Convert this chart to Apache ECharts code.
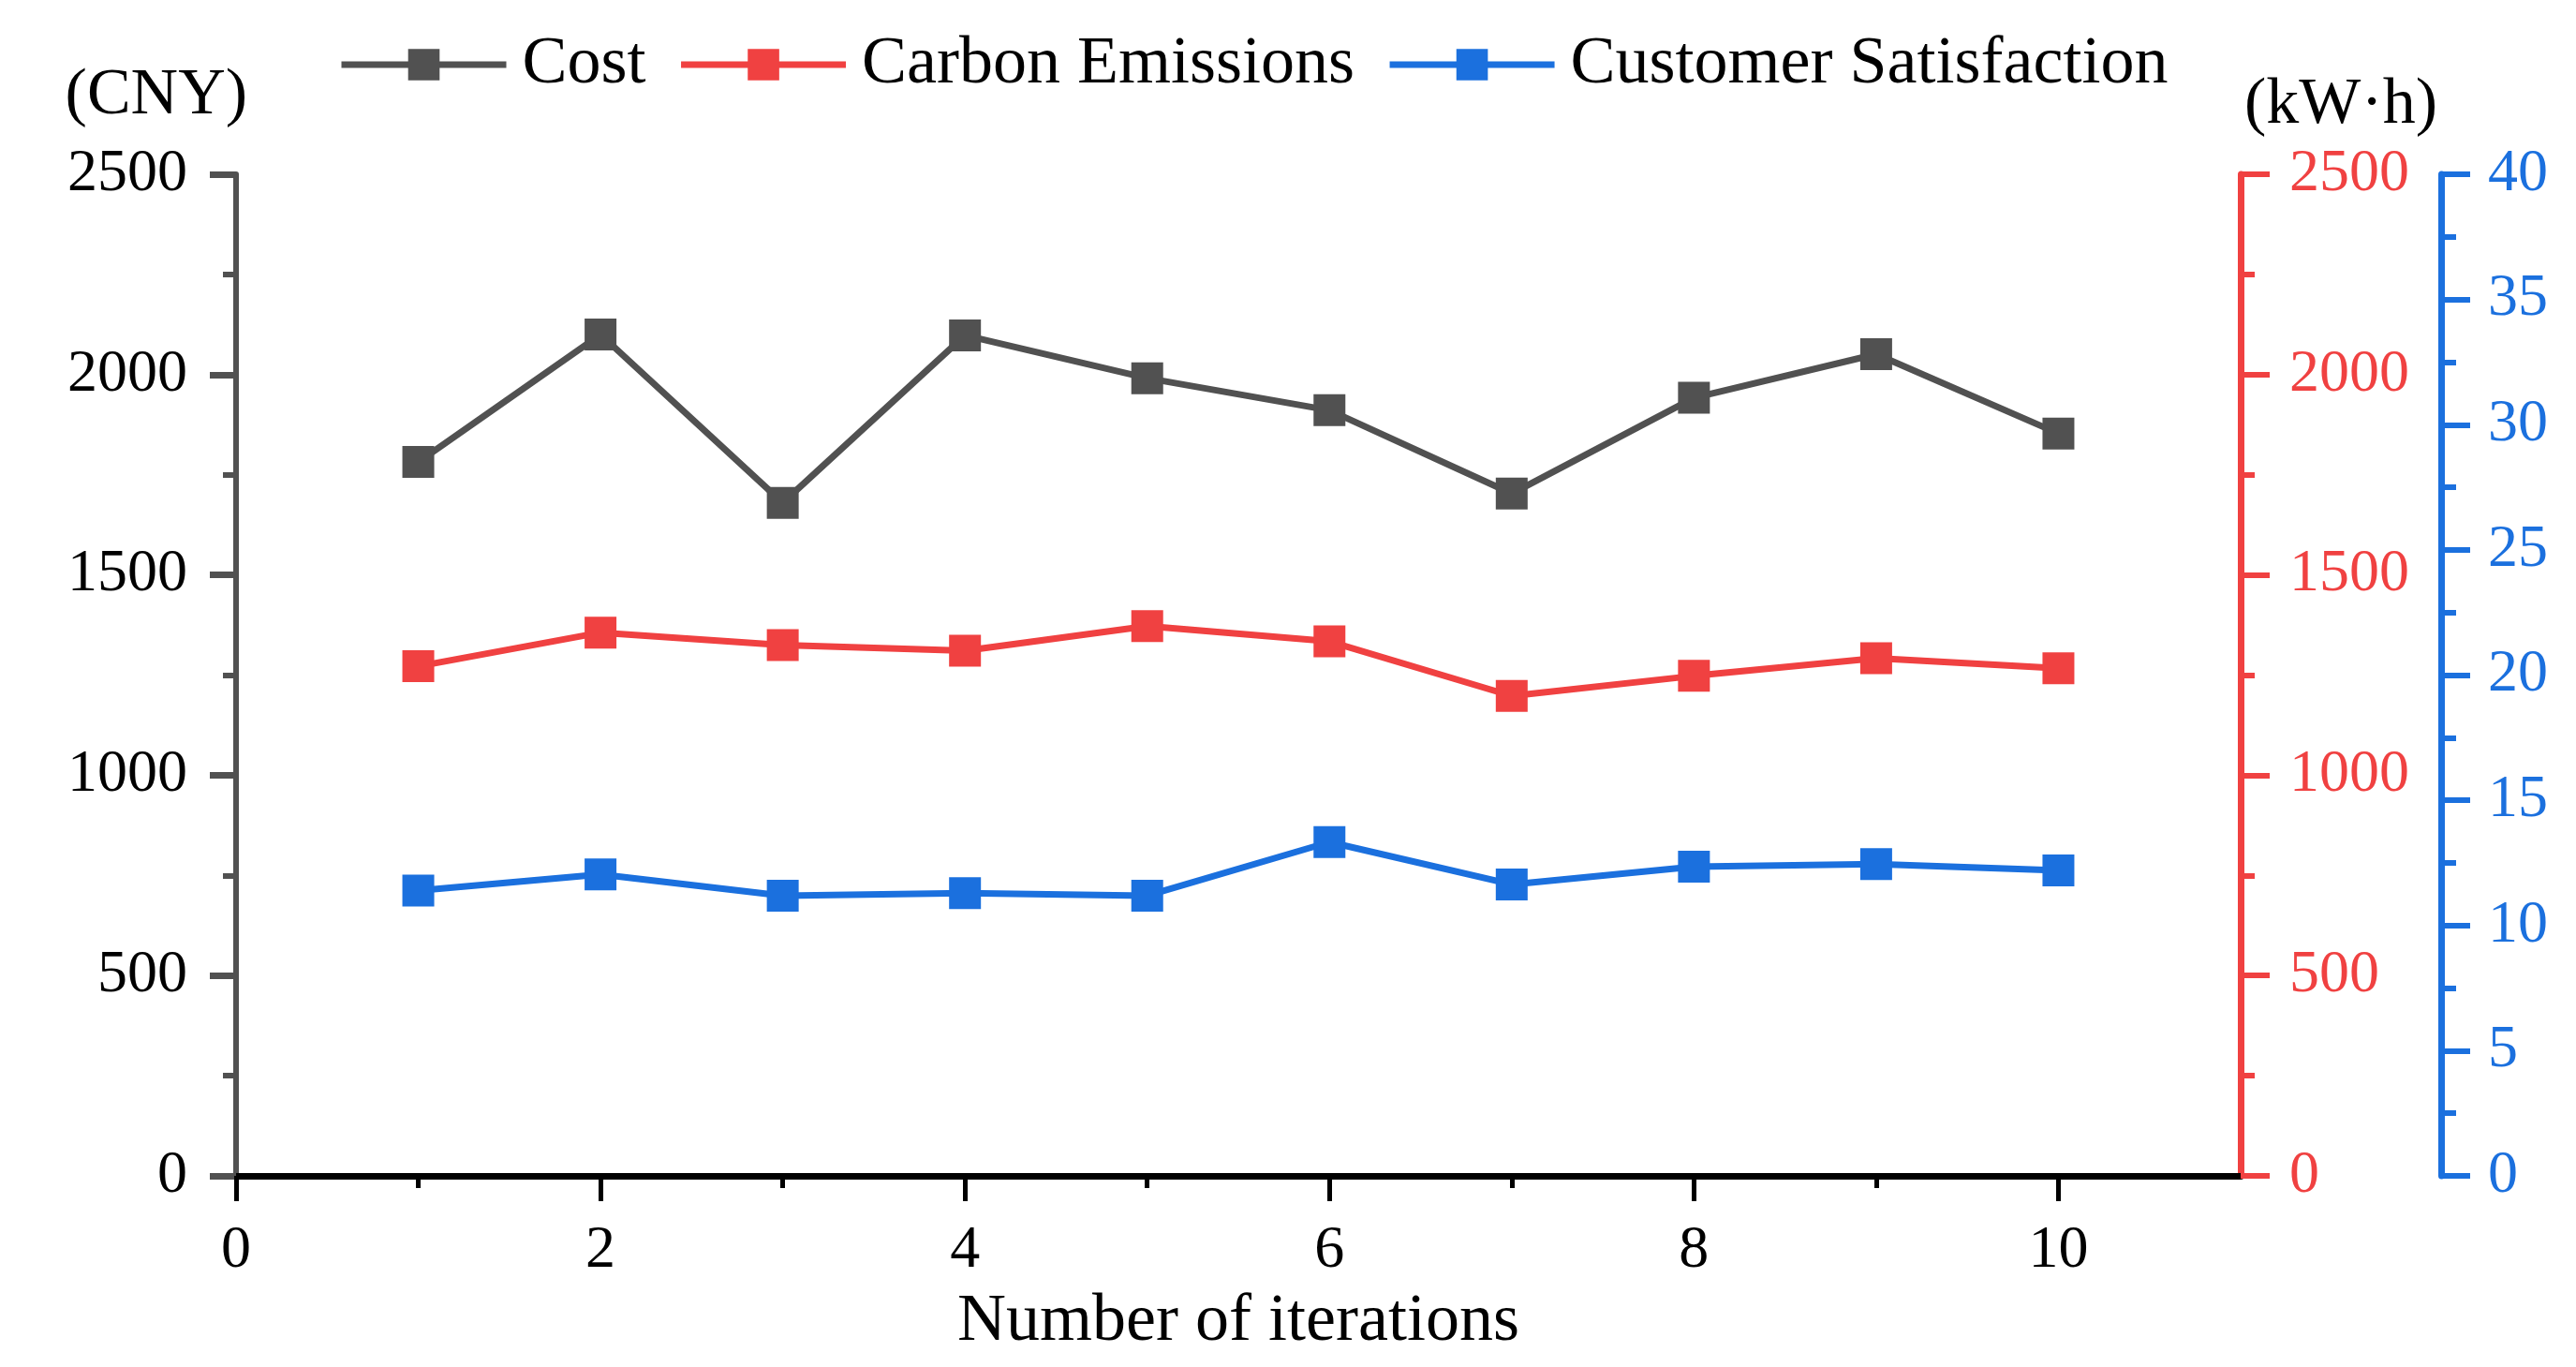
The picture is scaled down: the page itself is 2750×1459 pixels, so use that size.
<!DOCTYPE html>
<html>
<head>
<meta charset="utf-8">
<script src="https://cdn.jsdelivr.net/npm/echarts@6/dist/echarts.min.js"></script>
<style>
html,body{margin:0;padding:0;background:#fff;}
#chart{width:2750px;height:1459px;}
</style>
</head>
<body>
<div id="chart"></div>
<script>
const iterations = [1, 2, 3, 4, 5, 6, 7, 8, 9, 10];
const cost = [1782, 2100, 1680, 2098, 1991, 1911, 1703, 1942, 2051, 1853];
const carbon = [1272, 1356, 1325, 1311, 1372, 1334, 1198, 1248, 1292, 1267];
const satisfaction = [11.39, 12.04, 11.19, 11.29, 11.19, 13.33, 11.64, 12.35, 12.45, 12.20];
const seriesNames = ['Cost', 'Carbon Emissions', 'Customer Satisfaction'];
const xMajorTicks = [0, 2, 4, 6, 8, 10];
const xMinorTicks = [1, 3, 5, 7, 9];

const FONT = "'Liberation Serif', 'DejaVu Serif', serif";
const GRAY = '#515151';
const RED = '#F04141';
const BLUE = '#1B70DE';

const pairs = arr => iterations.map((x, i) => [x, arr[i]]);
const plain = v => String(v);

const chart = echarts.init(document.getElementById('chart'));
chart.setOption({
  animation: false,
  backgroundColor: '#fff',
  textStyle: { fontFamily: FONT },
  grid: { left: 252, right: 358, top: 186, bottom: 204, containLabel: false },
  legend: {
    data: seriesNames,
    left: 356,
    top: 28,
    itemWidth: 176,
    itemHeight: 42,
    itemGap: 34,
    lineStyle: { width: 7 },
    textStyle: { fontFamily: FONT, fontSize: 72, color: '#000', padding: [0, 0, 0, 12] }
  },
  xAxis: [
    {
      type: 'value', min: 0, max: 11, interval: 2,
      name: 'Number of iterations', nameLocation: 'middle', nameGap: 120,
      nameTextStyle: { fontFamily: FONT, fontSize: 72, color: '#000' },
      axisLine: { show: true, onZero: false, lineStyle: { color: '#000', width: 7 } },
      axisTick: { show: true, customValues: xMajorTicks, length: 27, lineStyle: { color: '#000', width: 5 } },
      axisLabel: { customValues: xMajorTicks, margin: 48, fontFamily: FONT, fontSize: 64, color: '#000', formatter: plain },
      splitLine: { show: false }
    },
    {
      type: 'value', min: 0, max: 11, position: 'bottom',
      axisLine: { show: false, onZero: false },
      axisTick: { show: true, customValues: xMinorTicks, length: 13, lineStyle: { color: '#000', width: 5 } },
      axisLabel: { show: false },
      splitLine: { show: false }
    }
  ],
  yAxis: [
    {
      type: 'value', position: 'left', min: 0, max: 2500, interval: 500,
      name: '(CNY)', nameLocation: 'end', nameGap: 48,
      nameTextStyle: { fontFamily: FONT, fontSize: 70, color: '#000', align: 'right', padding: [0, -12, 0, 0] },
      axisLine: { show: true, onZero: false, lineStyle: { color: GRAY, width: 6 } },
      axisTick: { show: true, length: 28, lineStyle: { color: GRAY, width: 7 } },
      minorTick: { show: true, splitNumber: 2, length: 14, lineStyle: { color: GRAY, width: 6 } },
      axisLabel: { margin: 52, fontFamily: FONT, fontSize: 64, color: '#000', padding: [0, 0, 12, 0], formatter: plain },
      splitLine: { show: false }
    },
    {
      type: 'value', position: 'right', min: 0, max: 2500, interval: 500,
      name: '(kW·h)', nameLocation: 'end', nameGap: 38,
      nameTextStyle: { fontFamily: FONT, fontSize: 70, color: '#000', align: 'left', padding: [0, 0, 0, 4] },
      axisLine: { show: true, onZero: false, lineStyle: { color: RED, width: 7 } },
      axisTick: { show: true, length: 31, lineStyle: { color: RED, width: 6 } },
      minorTick: { show: true, splitNumber: 2, length: 15, lineStyle: { color: RED, width: 6 } },
      axisLabel: { margin: 52, fontFamily: FONT, fontSize: 64, color: RED, padding: [0, 0, 12, 0], formatter: plain },
      splitLine: { show: false }
    },
    {
      type: 'value', position: 'right', offset: 214, min: 0, max: 40, interval: 5,
      axisLine: { show: true, onZero: false, lineStyle: { color: BLUE, width: 7 } },
      axisTick: { show: true, length: 31, lineStyle: { color: BLUE, width: 6 } },
      minorTick: { show: true, splitNumber: 2, length: 16, lineStyle: { color: BLUE, width: 6 } },
      axisLabel: { margin: 50, fontFamily: FONT, fontSize: 64, color: BLUE, padding: [0, 0, 12, 0], formatter: plain },
      splitLine: { show: false }
    }
  ],
  series: [
    {
      name: seriesNames[0], type: 'line', xAxisIndex: 0, yAxisIndex: 0,
      data: pairs(cost), symbol: 'rect', symbolSize: 34,
      itemStyle: { color: GRAY }, lineStyle: { color: GRAY, width: 7 }
    },
    {
      name: seriesNames[1], type: 'line', xAxisIndex: 0, yAxisIndex: 1,
      data: pairs(carbon), symbol: 'rect', symbolSize: 34,
      itemStyle: { color: RED }, lineStyle: { color: RED, width: 7 }
    },
    {
      name: seriesNames[2], type: 'line', xAxisIndex: 0, yAxisIndex: 2,
      data: pairs(satisfaction), symbol: 'rect', symbolSize: 34,
      itemStyle: { color: BLUE }, lineStyle: { color: BLUE, width: 7 }
    }
  ]
});
</script>
</body>
</html>
